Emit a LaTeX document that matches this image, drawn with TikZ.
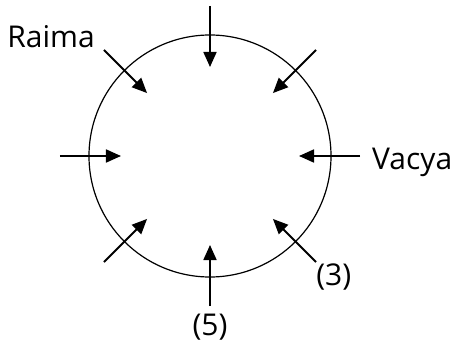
\documentclass[tikz,border=0pt]{standalone}
\usepackage{fontspec}
\setmainfont{Open Sans}
\usetikzlibrary{arrows.meta, positioning}

\begin{document}
\begin{tikzpicture}[
  ring/.style={circle, draw, line width=1.2bp, minimum size=242bp, inner sep=0pt},
  seat/.style={-{Triangle[length=15bp, width=13bp]}, line width=1.8bp},
  lbl/.style={inner sep=0pt, font=\fontsize{30bp}{36bp}\selectfont},
  >=Latex
]
\useasboundingbox (-210bp,-195bp) rectangle (245bp,156bp);

\node[ring] (table) at (0,0) {};

% outer ends and tips of the arrows
\coordinate (n-tail)  at (90:150bp);   \coordinate (n-tip)  at (90:89bp);
\coordinate (ne-tail) at (45:150bp);   \coordinate (ne-tip) at (45:89bp);
\coordinate (e-tail)  at (0:150bp);    \coordinate (e-tip)  at (0:89bp);
\coordinate (se-tail) at (-45:150bp);  \coordinate (se-tip) at (-45:89bp);
\coordinate (s-tail)  at (-90:150bp);  \coordinate (s-tip)  at (-90:89bp);
\coordinate (sw-tail) at (-135:150bp); \coordinate (sw-tip) at (-135:89bp);
\coordinate (w-tail)  at (180:150bp);  \coordinate (w-tip)  at (180:89bp);
\coordinate (nw-tail) at (135:150bp);  \coordinate (nw-tip) at (135:89bp);

\draw[seat] (n-tail) -- (n-tip);
\draw[seat] (ne-tail) -- (ne-tip);
\draw[seat] (e-tail) -- (e-tip);
\draw[seat] (se-tail) -- (se-tip);
\draw[seat] (s-tail) -- (s-tip);
\draw[seat] (sw-tail) -- (sw-tip);
\draw[seat] (w-tail) -- (w-tip);
\draw[seat] (nw-tail) -- (nw-tip);

\node[lbl, above left=2bp and 9bp of nw-tail] (raima) {Raima};
\node[lbl, right=12bp of e-tail, yshift=-6bp] (vacya) {Vacya};
\node[lbl, below right=2bp and 0bp of se-tail] (three) {(3)};
\node[lbl, below=8bp of s-tail] (five) {(5)};
\end{tikzpicture}
\end{document}
